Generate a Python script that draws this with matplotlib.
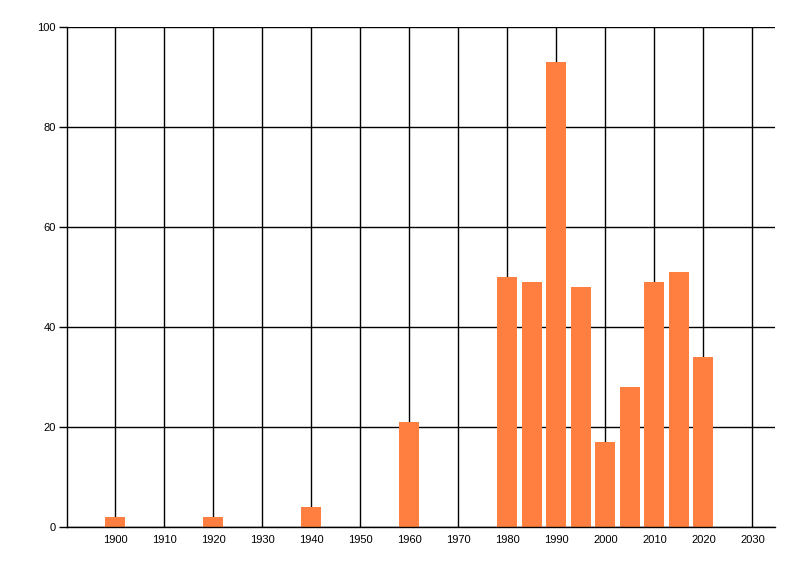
import matplotlib
matplotlib.use("Agg")
import matplotlib.pyplot as plt

years = [1900, 1920, 1940, 1960, 1980, 1985, 1990, 1995, 2000, 2005, 2010, 2015, 2020]
counts = [2, 2, 4, 21, 50, 49, 93, 48, 17, 28, 49, 51, 34]
xticks = list(range(1900, 2031, 10))
yticks = [0, 20, 40, 60, 80, 100]

fig = plt.figure(figsize=(8, 5.76), dpi=100)
ax = fig.add_axes([67/800, 1-527/576, (775-67)/800, 500/576])
ax.bar(years, counts, width=4.1, color="#FF7F40", zorder=3)
ax.set_xlim(1890.2, 2034.6)
ax.set_ylim(0, 100)
ax.set_xticks(xticks)
ax.set_xticklabels([str(x) for x in xticks])
ax.set_yticks(yticks)
ax.grid(True, color="black", linewidth=1, zorder=1)
for s in ["top", "right"]:
    ax.spines[s].set_visible(False)
for s in ["left", "bottom"]:
    ax.spines[s].set_linewidth(1)
    ax.spines[s].set_zorder(4)
ax.tick_params(axis="y", length=6, width=1, labelsize=8, pad=2)
ax.tick_params(axis="x", length=0, labelsize=8, pad=6)
for lbl in ax.get_xticklabels() + ax.get_yticklabels():
    lbl.set_fontfamily("Liberation Sans")
fig.savefig("out.png", dpi=100)
